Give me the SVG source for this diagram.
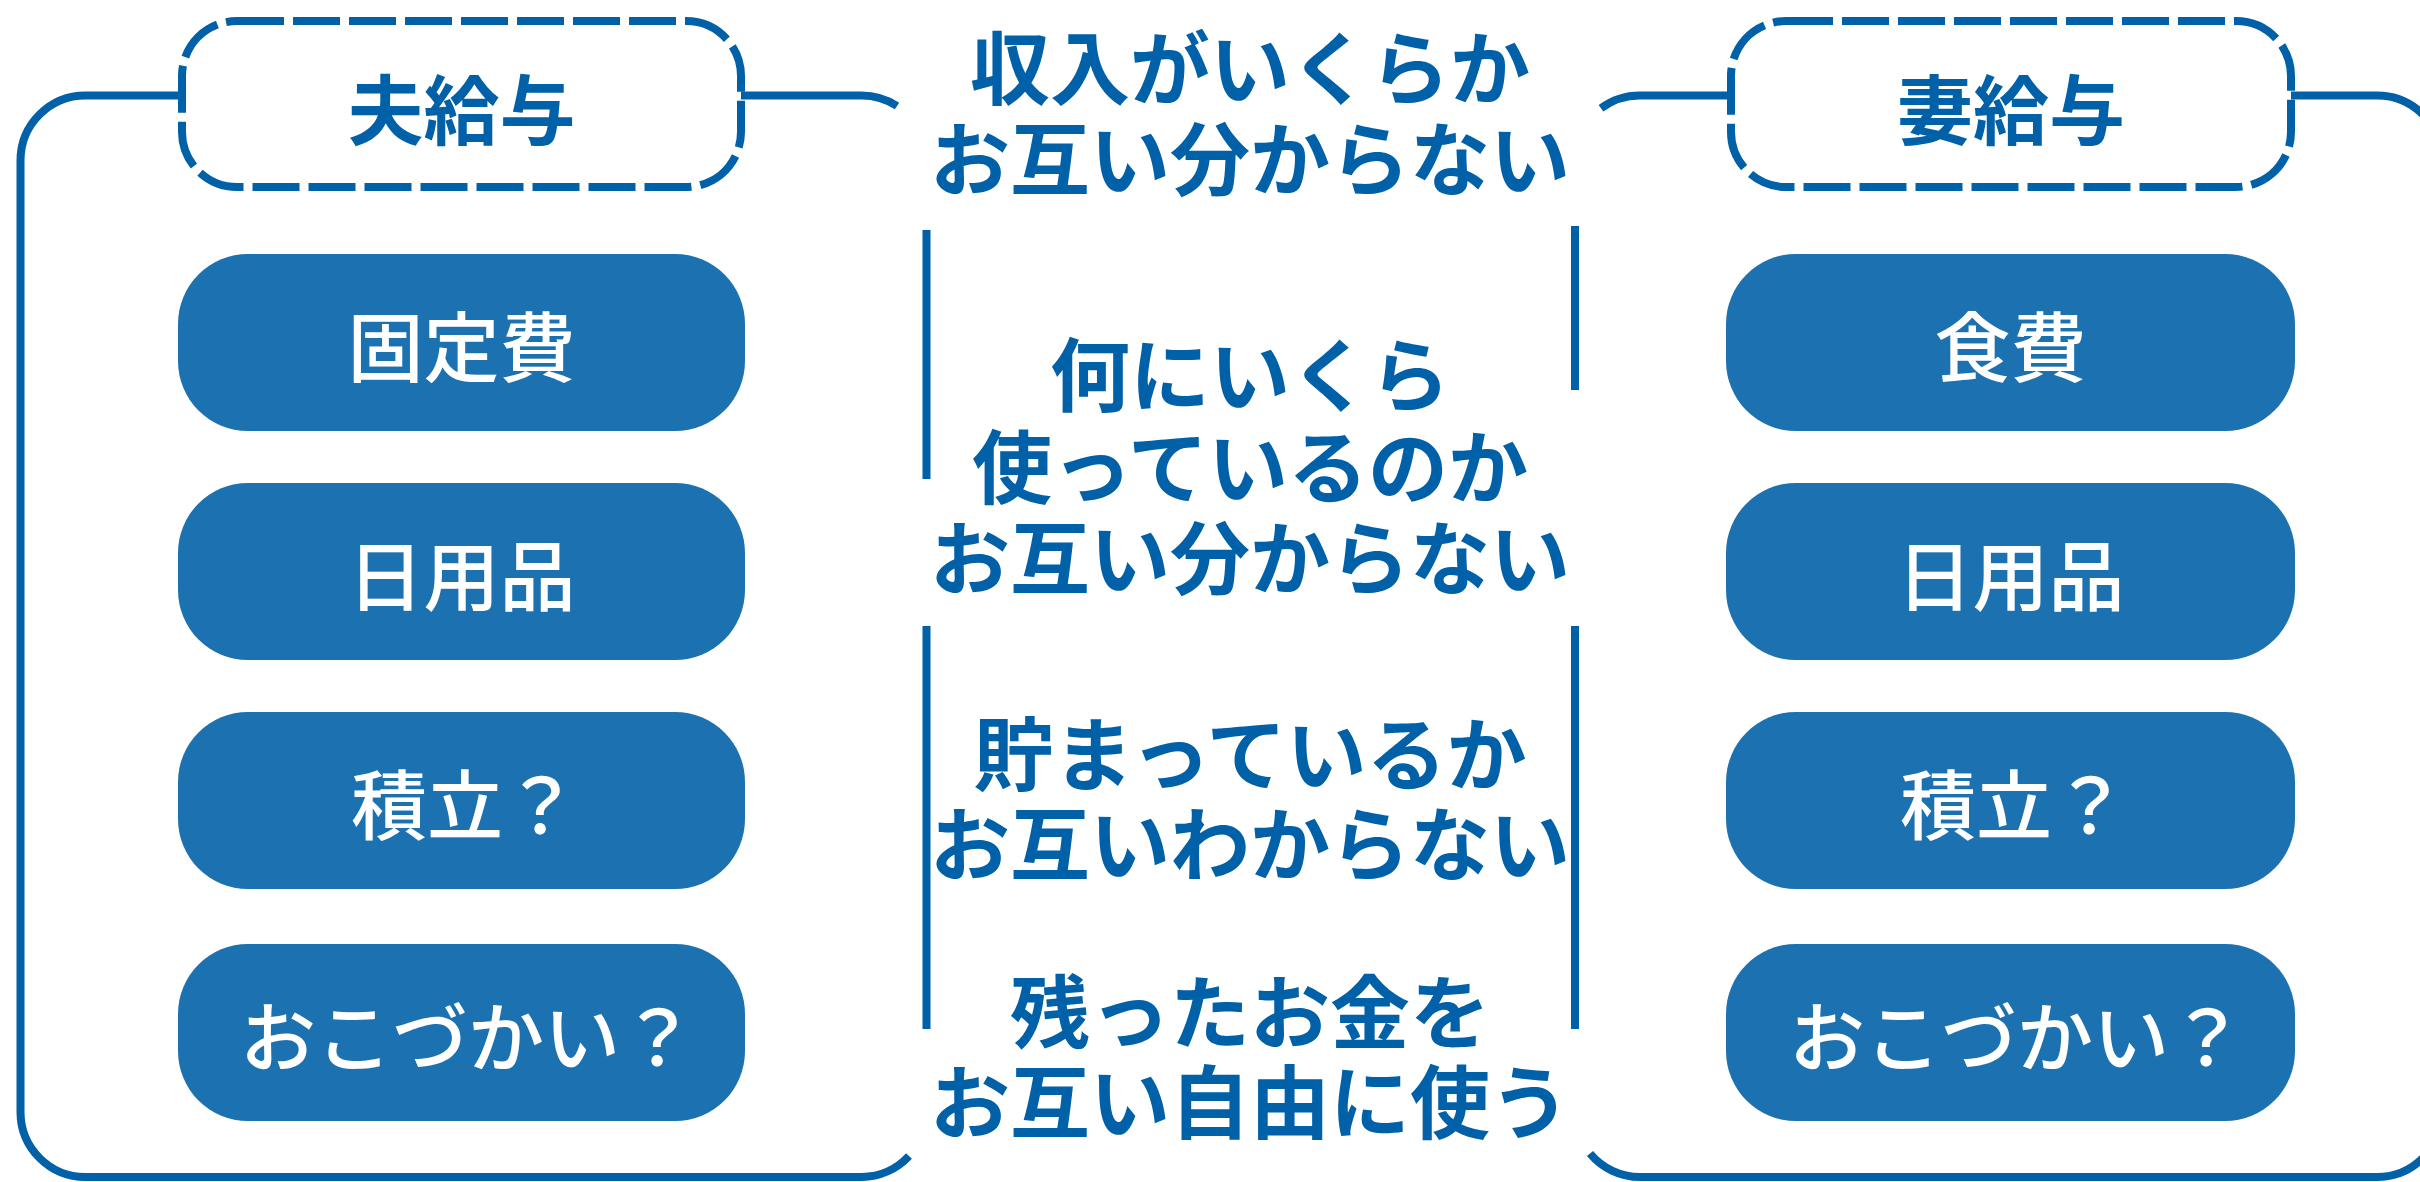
<svg xmlns="http://www.w3.org/2000/svg" width="2420" height="1182" viewBox="0 0 2420 1182">
  <style>
    .frame { fill: none; stroke: #0060a8; stroke-width: 8; stroke-linecap: butt; }
    .label-box { fill: #ffffff; stroke: #0060a8; stroke-width: 8; stroke-dasharray: 47 9; }
    .pill { fill: #1c71b0; }
    .label { font-family: "Noto Sans CJK JP", "Noto Sans", sans-serif; font-weight: 700; font-size: 76px; fill: #0060a8; text-anchor: middle; }
    .ptext { font-family: "Noto Sans CJK JP", "Noto Sans", sans-serif; font-weight: 500; font-size: 76px; fill: #ffffff; text-anchor: middle; }
    .mtext { font-family: "Noto Sans CJK JP", "Noto Sans", sans-serif; font-weight: 700; font-size: 80px; fill: #0060a8; text-anchor: middle; }
  </style>

  <rect width="2420" height="1182" fill="#ffffff"/>

  <g id="connectors">
    <path class="frame" d="M 897,106 A 65 65 0 0 0 861.5,95.5 H 85.5 A 65 65 0 0 0 20.5,160.5 V 1112 A 65 65 0 0 0 85.5,1177 H 861.5 A 65 65 0 0 0 909,1156"/>
    <path class="frame" d="M 926.5,230 V 479 M 926.5,626 V 1029"/>
    <path class="frame" d="M 1601,108.3 A 65 65 0 0 1 1640,95.5 H 2377 A 65 65 0 0 1 2442,160.5 V 1112 A 65 65 0 0 1 2377,1177 H 1640 A 65 65 0 0 1 1590,1153.5"/>
    <path class="frame" d="M 1575,226 V 390 M 1575,626 V 1029"/>
  </g>

  <g id="husband-salary">
    <rect class="label-box" x="182" y="21" width="559" height="166" rx="55" ry="55"/>
    <text class="label" x="461.5" y="139">夫給与</text>
  </g>
  <g id="wife-salary">
    <rect class="label-box" x="1731" y="21" width="560" height="166" rx="55" ry="55"/>
    <text class="label" x="2011" y="139">妻給与</text>
  </g>

  <g id="h-fixed">
    <rect class="pill" x="178" y="254" width="567" height="177" rx="70" ry="70"/>
    <text class="ptext" x="461.5" y="376">固定費</text>
  </g>
  <g id="h-daily">
    <rect class="pill" x="178" y="483" width="567" height="177" rx="70" ry="70"/>
    <text class="ptext" x="461.5" y="605">日用品</text>
  </g>
  <g id="h-savings">
    <rect class="pill" x="178" y="712" width="567" height="177" rx="70" ry="70"/>
    <text class="ptext" x="465" y="834">積立？</text>
  </g>
  <g id="h-allowance">
    <rect class="pill" x="178" y="944" width="567" height="177" rx="70" ry="70"/>
    <text class="ptext" x="468" y="1066">おこづかい？</text>
  </g>

  <g id="w-food">
    <rect class="pill" x="1726" y="254" width="569" height="177" rx="70" ry="70"/>
    <text class="ptext" x="2010.5" y="376">食費</text>
  </g>
  <g id="w-daily">
    <rect class="pill" x="1726" y="483" width="569" height="177" rx="70" ry="70"/>
    <text class="ptext" x="2010.5" y="605">日用品</text>
  </g>
  <g id="w-savings">
    <rect class="pill" x="1726" y="712" width="569" height="177" rx="70" ry="70"/>
    <text class="ptext" x="2014" y="834">積立？</text>
  </g>
  <g id="w-allowance">
    <rect class="pill" x="1726" y="944" width="569" height="177" rx="70" ry="70"/>
    <text class="ptext" x="2017" y="1066">おこづかい？</text>
  </g>

  <g id="issue-income">
    <text class="mtext"><tspan x="1250" y="98">収入がいくらか</tspan><tspan x="1250" y="189">お互い分からない</tspan></text>
  </g>
  <g id="issue-spending">
    <text class="mtext"><tspan x="1250" y="405">何にいくら</tspan><tspan x="1250" y="497">使っているのか</tspan><tspan x="1250" y="588">お互い分からない</tspan></text>
  </g>
  <g id="issue-savings">
    <text class="mtext"><tspan x="1250" y="784">貯まっているか</tspan><tspan x="1250" y="874">お互いわからない</tspan></text>
  </g>
  <g id="issue-remaining">
    <text class="mtext"><tspan x="1250" y="1042">残ったお金を</tspan><tspan x="1250" y="1132">お互い自由に使う</tspan></text>
  </g>
</svg>
